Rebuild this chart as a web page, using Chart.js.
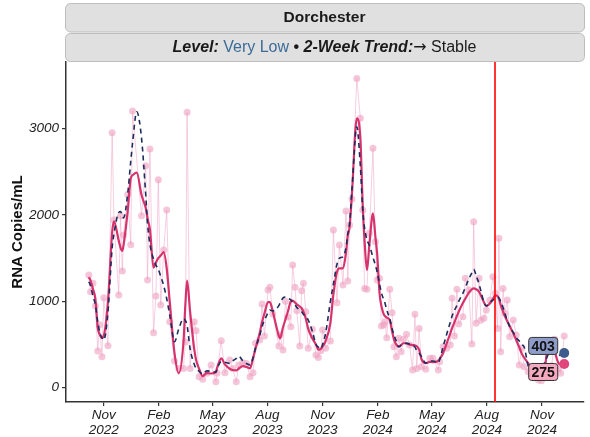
<!DOCTYPE html>
<html>
<head>
<meta charset="utf-8">
<script src="https://cdn.jsdelivr.net/npm/chart.js@4.4.1/dist/chart.umd.min.js"></script>
<style>
  html, body { margin: 0; padding: 0; background: #fff; }
  canvas { display: block; }
</style>
</head>
<body>
<canvas id="myChart" width="590" height="437" style="width:590px;height:437px"></canvas>
<script>

// sample dates (raw samples, smoothed + trend lines share the same dates)
const sampleDates = [
  '2022-10-07','2022-10-10','2022-10-14','2022-10-18','2022-10-22','2022-10-25','2022-10-29','2022-11-01',
  '2022-11-08','2022-11-15','2022-11-18','2022-11-26','2022-11-29','2022-12-02','2022-12-04','2022-12-11',
  '2022-12-16','2022-12-19','2022-12-26','2023-01-03','2023-01-10','2023-01-13','2023-01-17','2023-01-23',
  '2023-01-27','2023-01-31','2023-02-04','2023-02-09','2023-02-14','2023-02-19','2023-02-27','2023-03-06',
  '2023-03-14','2023-03-17','2023-03-20','2023-03-25','2023-04-01','2023-04-04','2023-04-09','2023-04-15',
  '2023-04-22','2023-04-29','2023-05-07','2023-05-09','2023-05-16','2023-05-22','2023-05-30','2023-06-04',
  '2023-06-10','2023-06-14','2023-06-21','2023-06-27','2023-07-03','2023-07-08','2023-07-12','2023-07-19',
  '2023-07-23','2023-07-27','2023-08-02','2023-08-05','2023-08-10','2023-08-20','2023-08-22','2023-08-27',
  '2023-08-31','2023-09-04','2023-09-09','2023-09-12','2023-09-16','2023-09-19','2023-09-24','2023-09-27',
  '2023-09-30','2023-10-04','2023-10-08','2023-10-15','2023-10-21','2023-10-25','2023-10-29','2023-11-01',
  '2023-11-06','2023-11-14','2023-11-19','2023-11-25','2023-11-29','2023-12-05','2023-12-10','2023-12-13',
  '2023-12-16','2023-12-20','2023-12-28','2024-01-03','2024-01-07','2024-01-10','2024-01-14','2024-01-18',
  '2024-01-24','2024-01-28','2024-01-31','2024-02-04','2024-02-07','2024-02-11','2024-02-13','2024-02-16',
  '2024-02-21','2024-02-25','2024-02-28','2024-03-03','2024-03-07','2024-03-11','2024-03-15','2024-03-20',
  '2024-03-25','2024-03-30','2024-04-03','2024-04-06','2024-04-10','2024-04-14','2024-04-21','2024-04-28',
  '2024-05-03','2024-05-12','2024-05-14','2024-05-20','2024-05-26','2024-06-01','2024-06-04','2024-06-08',
  '2024-06-12','2024-06-15','2024-06-22','2024-06-26','2024-07-02','2024-07-07','2024-07-10','2024-07-14',
  '2024-07-19','2024-07-22','2024-07-27','2024-07-31','2024-08-06','2024-08-11','2024-08-15','2024-08-19',
  '2024-08-21','2024-08-24','2024-08-28','2024-08-31','2024-09-04','2024-09-08','2024-09-14','2024-09-19',
  '2024-09-24','2024-09-28','2024-10-02','2024-10-09','2024-10-14','2024-10-20','2024-10-26','2024-10-31',
  '2024-11-06','2024-11-11','2024-11-17','2024-11-22','2024-11-28','2024-12-02','2024-12-08'
];

// raw sample values (copies/mL)
const rawCopies = [
  1304,1111,1208,945,425,730,360,1042,
  486,2951,1941,1073,1990,1351,1767,2236,
  1656,3204,null,1991,2570,1247,2763,637,
  1061,2408,957,1594,2057,764,309,224,
  224,530,3188,224,764,660,127,97,
  167,263,69,167,544,174,321,224,
  69,263,289,282,127,174,514,552,
  969,598,1131,1162,853,483,610,436,
  1000,820,706,1420,1162,891,483,1123,
  1208,880,456,676,378,351,428,668,
  456,540,1825,984,1652,1189,2045,1235,
  1883,2184,3580,3118,2057,1150,1139,1787,
  2771,1690,1247,1266,714,726,764,579,
  1139,868,475,359,572,417,560,618,
  494,205,850,224,687,243,213,340,
  340,205,301,475,456,494,1035,598,
  1139,737,822,1266,1131,506,1921,745,
  1266,780,803,899,1015,1285,1093,687,
  1729,417,1150,861,1015,590,784,610,
  263,456,243,185,127,135,89,81,
  127,167,251,560,224,167,598
];

// smoothed values (solid line)
const smoothCopies = [
  1280,1240,1140,1030,690,620,575,600,
  1000,1800,1925,1700,1620,1585,1650,2050,
  2424,2460,2490,2230,2080,1960,1830,1390,
  1450,1500,1530,1570,1380,1000,400,167,
  532,950,1240,880,440,321,220,135,
  170,165,180,230,340,270,220,205,
  200,220,251,240,225,340,450,630,
  760,860,990,990,880,600,572,700,
  790,880,1000,1010,985,965,940,920,
  880,800,680,570,500,440,450,480,
  540,750,1080,1340,1382,1382,1560,1760,
  1860,2250,3118,2880,2100,1700,1362,1650,
  2018,1750,1550,1093,950,850,830,812,
  784,650,560,500,475,495,515,515,
  500,494,490,480,440,330,285,300,
  295,310,330,400,514,630,690,760,
  830,880,980,1030,1100,1140,1150,1140,
  1110,1070,990,946,975,1030,1070,1060,
  1030,960,880,830,770,715,630,550,
  470,398,350,282,220,170,130,130,
  250,480,500,420,290,270,275
];

// trend values (dashed line)
const trendCopies = [
  1227,1180,1060,960,760,650,580,552,
  880,1620,1780,2030,2040,1990,1965,2250,
  2620,2830,3194,2887,2230,1900,1660,1490,
  1420,1370,1290,1180,1030,841,532,680,
  800,780,720,450,270,224,190,159,
  195,190,180,220,301,295,282,310,
  340,367,310,280,263,350,460,600,
  710,780,870,899,890,950,980,1040,
  1050,1035,1018,990,960,930,899,880,
  850,820,784,650,500,470,450,500,
  630,1000,1200,1430,1500,1516,1620,1780,
  1903,2300,3021,2560,2050,1850,1709,1650,
  1510,1420,1340,1200,1100,1020,980,900,
  800,680,610,540,475,490,505,514,
  505,494,470,430,400,360,285,310,
  310,290,320,475,620,760,830,899,
  950,1000,1093,1160,1260,1330,1370,1300,
  1200,1120,990,946,985,1015,1035,1050,
  1040,1000,930,861,780,710,640,580,
  540,500,475,250,180,160,170,200,
  300,380,420,400,370,385,403
];

const tickDates = ['2022-11-01','2023-02-01','2023-05-01','2023-08-01','2023-11-01',
                   '2024-02-01','2024-05-01','2024-08-01','2024-11-01'];
const tickLabels = [['Nov','2022'],['Feb','2023'],['May','2023'],['Aug','2023'],['Nov','2023'],
                    ['Feb','2024'],['May','2024'],['Aug','2024'],['Nov','2024']];
const yTicks = [0, 1000, 2000, 3000];

const siteName = 'Dorchester';
const levelText = 'Very Low';
const trendText = 'Stable';
const refDate = '2024-08-15';
const xMin = '2022-08-30';
const xMax = '2025-01-10';


const toDay = s => Date.parse(s) / 86400000;
const FONT = "'Liberation Sans', Arial, Helvetica, sans-serif";
Chart.defaults.font.family = FONT;

const points = vals => sampleDates.map((d, i) => ({ x: toDay(d), y: vals[i] }));
const lastIdx = sampleDates.length - 1;

function roundRect(ctx, x, y, w, h, r) {
    ctx.beginPath();
    ctx.moveTo(x + r, y);
    ctx.arcTo(x + w, y, x + w, y + h, r);
    ctx.arcTo(x + w, y + h, x, y + h, r);
    ctx.arcTo(x, y + h, x, y, r);
    ctx.arcTo(x, y, x + w, y, r);
    ctx.closePath();
}

// facet strips on top
const stripPlugin = {
    id: 'strips',
    afterDraw(chart) {
        const ctx = chart.ctx;
        const a = chart.chartArea;
        const left = a.left - 1, w = a.right - a.left + 1;
        ctx.save();
        ctx.fillStyle = '#e0e0e0';
        ctx.strokeStyle = '#bdbdbd';
        ctx.lineWidth = 1;
        roundRect(ctx, left + 0.5, 3.5, w, 28.5, 5);
        ctx.fill(); ctx.stroke();
        roundRect(ctx, left + 0.5, 33.5, w, 28, 5);
        ctx.fill(); ctx.stroke();

        const cx = left + w / 2;
        ctx.textBaseline = 'middle';
        ctx.textAlign = 'center';
        ctx.fillStyle = '#1a1a1a';
        ctx.font = 'bold 15.5px ' + FONT;
        ctx.fillText(siteName, cx, 17.5);

        const parts = [
            { t: 'Level:', f: 'italic bold 16px ' + FONT, c: '#1a1a1a' },
            { t: ' ' + levelText, f: '16px ' + FONT, c: '#3b6c98' },
            { t: ' \u2022 ', f: 'bold 16px ' + FONT, c: '#1a1a1a' },
            { t: '2-Week Trend:', f: 'italic bold 16px ' + FONT, c: '#1a1a1a' },
            { t: '\u2192', f: '16px "DejaVu Sans", sans-serif', c: '#1a1a1a' },
            { t: ' ' + trendText, f: '16px ' + FONT, c: '#1a1a1a' }
        ];
        let total = 0;
        parts.forEach(p => { ctx.font = p.f; p.w = ctx.measureText(p.t).width; total += p.w; });
        let x = cx - total / 2;
        ctx.textAlign = 'left';
        parts.forEach(p => {
            ctx.font = p.f;
            ctx.fillStyle = p.c;
            ctx.fillText(p.t, x, 47.5);
            x += p.w;
        });
        ctx.restore();
    }
};

// red reference line + end labels
const markPlugin = {
    id: 'marks',
    afterDatasetsDraw(chart) {
        const ctx = chart.ctx;
        const a = chart.chartArea;
        const xs = chart.scales.x;
        const xr = Math.round(xs.getPixelForValue(toDay(refDate)));
        ctx.save();
        ctx.setLineDash([]);
        ctx.globalAlpha = 1;
        ctx.strokeStyle = 'rgb(255, 0, 0)';
        ctx.lineWidth = 1.6;
        ctx.beginPath();
        ctx.moveTo(xr, a.top);
        ctx.lineTo(xr, a.bottom);
        ctx.stroke();

        const labels = [
            { ds: 1, val: trendCopies[lastIdx], fill: '#8e9cc9', dy: -7 },
            { ds: 2, val: smoothCopies[lastIdx], fill: '#f5a9c0', dy: 8 }
        ];
        labels.forEach(l => {
            const pt = chart.getDatasetMeta(l.ds).data[lastIdx];
            const bw = 29, bh = 17;
            const bx = pt.x - 21 - bw / 2, by = pt.y + l.dy - bh / 2;
            ctx.fillStyle = l.fill;
            ctx.strokeStyle = '#333';
            ctx.lineWidth = 1;
            roundRect(ctx, bx, by, bw, bh, 3);
            ctx.fill(); ctx.stroke();
            ctx.fillStyle = '#111';
            ctx.font = 'bold 14px ' + FONT;
            ctx.textAlign = 'center';
            ctx.textBaseline = 'middle';
            ctx.fillText(String(l.val), bx + bw / 2, by + bh / 2 + 1);
        });
        ctx.restore();
    }
};

const ctx = document.getElementById('myChart').getContext('2d');
const myChart = new Chart(ctx, {
    type: 'line',
    data: {
        datasets: [
            {
                label: 'Raw',
                data: points(rawCopies),
                borderColor: 'rgba(240, 165, 198, 0.55)',
                borderWidth: 1,
                pointRadius: 3.5,
                pointBackgroundColor: 'rgba(238, 160, 192, 0.6)',
                pointBorderWidth: 0,
                spanGaps: true,
                tension: 0,
                order: 3
            },
            {
                label: 'Trend',
                data: points(trendCopies),
                borderColor: '#1c2d5c',
                borderWidth: 1.6,
                borderDash: [5, 4],
                cubicInterpolationMode: 'monotone',
                pointRadius: c => c.dataIndex === lastIdx ? 5 : 0,
                pointBackgroundColor: '#3d5a8c',
                pointBorderWidth: 0,
                order: 1
            },
            {
                label: 'Smoothed',
                data: points(smoothCopies),
                borderColor: '#d6336d',
                borderWidth: 2.2,
                cubicInterpolationMode: 'monotone',
                pointRadius: c => c.dataIndex === lastIdx ? 5 : 0,
                pointBackgroundColor: '#e0457b',
                pointBorderWidth: 0,
                order: 2
            }
        ]
    },
    options: {
        responsive: false,
        animation: false,
        layout: { padding: { top: 62, right: 6, left: 0, bottom: 0 } },
        plugins: {
            legend: { display: false },
            tooltip: { enabled: false }
        },
        scales: {
            x: {
                type: 'linear',
                min: toDay(xMin),
                max: toDay(xMax),
                afterBuildTicks: s => { s.ticks = tickDates.map(d => ({ value: toDay(d) })); },
                afterFit: s => { s.height = 35; },
                ticks: {
                    autoSkip: false,
                    maxRotation: 0,
                    padding: 2,
                    color: '#222',
                    font: { size: 13.5, style: 'italic', lineHeight: 1.1 },
                    callback: (v, i) => tickLabels[i]
                },
                grid: { drawOnChartArea: false, drawTicks: true, tickLength: 4, color: '#333', lineWidth: 1.2 },
                border: { color: '#333', width: 1.5 }
            },
            y: {
                min: -165,
                max: 3770,
                afterBuildTicks: s => { s.ticks = yTicks.map(v => ({ value: v })); },
                afterFit: s => { s.width = 66; },
                ticks: {
                    padding: 3,
                    color: '#222',
                    font: { size: 13.5, style: 'italic' },
                    callback: v => String(v)
                },
                grid: { drawOnChartArea: false, drawTicks: true, tickLength: 4, color: '#333', lineWidth: 1.2 },
                border: { color: '#333', width: 1.5 },
                title: {
                    display: true,
                    text: 'RNA Copies/mL',
                    color: '#111',
                    font: { size: 15, weight: 'bold' },
                    padding: { top: 9, bottom: 0 }
                }
            }
        }
    },
    plugins: [stripPlugin, markPlugin]
});

</script>
</body>
</html>
